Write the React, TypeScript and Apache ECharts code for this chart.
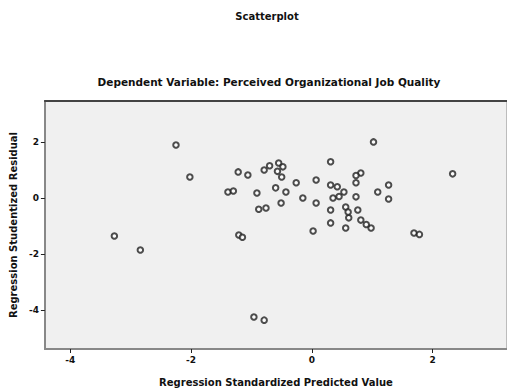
import React, { useEffect, useRef } from "react";
import * as echarts from "echarts";

const titleText = "Scatterplot";
const subtitleText = "Dependent Variable: Perceived Organizational Job Quality";
const xAxisTitle = "Regression Standardized Predicted Value";
const yAxisTitle = "Regression Studentized Residual";

const xTicks = [-4, -2, 0, 2];
const yTicks = [2, 0, -2, -4];

const predicted = [
  -2.25, -2.02, -3.27, -2.84, -1.22, -1.06, -0.79, -0.55, -0.5, -1.39,
  -0.91, -0.6, -0.43, -0.76, -0.51, -1.21, -0.96, -0.79, 1.02, 0.31,
  0.81, 2.33, -0.48, -0.26, 0.07, 0.31, 0.53, 0.73, 0.73, 1.09,
  1.27, 1.27, -0.15, 0.07, 0.35, 0.31, 0.56, 0.76, 0.61, 0.81,
  0.98, 0.56, 0.31, 0.02, 1.69, -1.15, -0.7, -0.88, 0.42, 0.45,
  0.9, 1.78, -1.3, 0.73, 0.6, -0.57,
];
const residual = [
  1.89, 0.75, -1.36, -1.86, 0.93, 0.82, 1.0, 1.25, 0.75, 0.21,
  0.18, 0.36, 0.21, -0.36, -0.18, -1.32, -4.25, -4.36, 2.0, 1.29,
  0.89, 0.86, 1.11, 0.54, 0.64, 0.46, 0.21, 0.54, 0.04, 0.21,
  0.46, -0.04, 0.0, -0.18, 0.0, -0.43, -0.32, -0.43, -0.71, -0.79,
  -1.07, -1.07, -0.89, -1.18, -1.25, -1.4, 1.15, -0.4, 0.4, 0.05,
  -0.95, -1.3, 0.25, 0.8, -0.5, 0.95,
];

export default function App() {
  const ref = useRef<HTMLDivElement>(null);
  useEffect(() => {
    document.body.style.margin = "0";
    const chart = echarts.init(ref.current!, null, { renderer: "svg" });
    const font = "DejaVu Sans";
    const data = predicted.map((x, i) => [x, residual[i]]);
    const titleStyle = { fontWeight: "bold" as const, color: "#111", fontFamily: font };
    chart.setOption({
      animation: false,
      backgroundColor: "#ffffff",
      textStyle: { fontFamily: font },
      title: [
        {
          text: titleText,
          left: 262,
          textAlign: "center",
          top: 6,
          textStyle: { ...titleStyle, fontSize: 10 },
        },
        {
          text: subtitleText,
          left: 264,
          textAlign: "center",
          top: 71,
          textStyle: { ...titleStyle, fontSize: 10.5 },
        },
      ],
      grid: {
        left: 43,
        top: 101,
        right: 0,
        bottom: 43,
        show: true,
        backgroundColor: "#f0f0f0",
        borderColor: "#888",
        borderWidth: 1,
      },
      xAxis: [
        {
          type: "value",
          min: -4.42,
          max: 3.23,
          position: "bottom",
          name: xAxisTitle,
          nameLocation: "middle",
          nameGap: 28,
          nameTextStyle: { ...titleStyle, fontSize: 10 },
          axisLine: { show: true, onZero: false, lineStyle: { color: "#888", width: 2 } },
          axisTick: { show: true, length: 4, customValues: xTicks, lineStyle: { color: "#222" } },
          axisLabel: {
            customValues: xTicks,
            fontSize: 9,
            fontWeight: "bold",
            color: "#111",
            margin: 6,
            formatter: (v: number) => String(v),
          },
          splitLine: { show: false },
        },
        {
          type: "value",
          min: -4.42,
          max: 3.23,
          position: "top",
          axisLine: { show: true, onZero: false, lineStyle: { color: "#444", width: 2 } },
          axisTick: { show: false },
          axisLabel: { show: false },
          splitLine: { show: false },
        },
      ],
      yAxis: {
        type: "value",
        min: -5.39,
        max: 3.46,
        name: yAxisTitle,
        nameLocation: "middle",
        nameGap: 26,
        nameTextStyle: { ...titleStyle, fontSize: 10 },
        axisLine: { show: true, onZero: false, lineStyle: { color: "#888", width: 2 } },
        axisTick: { show: true, length: 4, customValues: yTicks, lineStyle: { color: "#222" } },
        axisLabel: {
          customValues: yTicks,
          fontSize: 9,
          fontWeight: "bold",
          color: "#111",
          margin: 6,
          formatter: (v: number) => String(v),
        },
        splitLine: { show: false },
      },
      series: [
        {
          type: "scatter",
          xAxisIndex: 0,
          data,
          symbol: "emptyCircle",
          symbolSize: 5.5,
          itemStyle: { color: "#222", borderColor: "#222", borderWidth: 1.3 },
        },
      ],
    });
    return () => chart.dispose();
  }, []);
  return <div ref={ref} style={{ width: 507, height: 392 }} />;
}
